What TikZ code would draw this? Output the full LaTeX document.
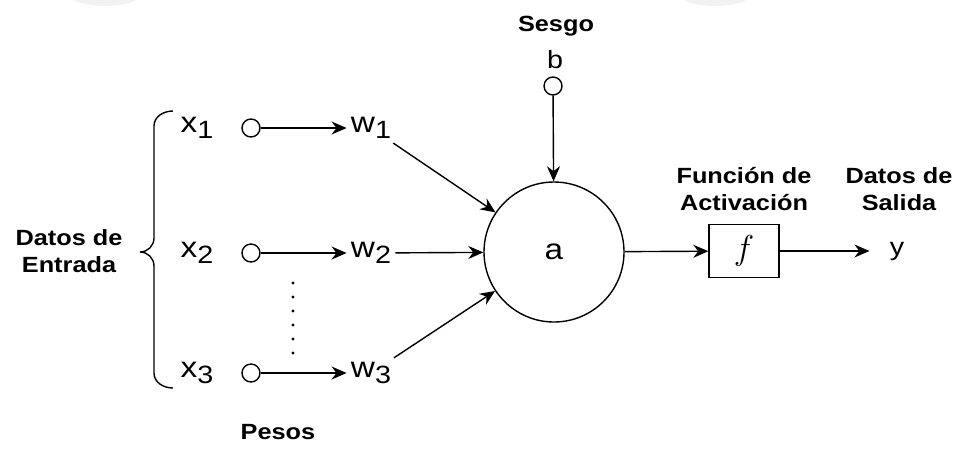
\documentclass[tikz,border=0pt]{standalone}
\usepackage{fontspec}
\setmainfont[FakeStretch=1.15]{Liberation Sans}
\usetikzlibrary{arrows.meta}

\tikzset{
  lbl/.style={font=\fontsize{11}{13.5}\selectfont\bfseries, align=center},
  var/.style={font=\fontsize{14.5}{16}\selectfont, inner sep=2pt},
  port/.style={circle, draw, line width=0.7pt, inner sep=0pt, minimum size=9pt},
  arr/.style={-{Stealth[length=7.5pt,width=6.5pt]}, line width=0.7pt},
}
\newcommand{\varsub}[2]{#1\raisebox{-3pt}{\fontsize{12.5}{12.5}\selectfont #2}}

\begin{document}
\begin{tikzpicture}[x=0.5pt, y=-0.5pt]
        \useasboundingbox (0,0) rectangle (956,451);

        % faint marks at the top edge
        \fill[black!5] (105,-6) ellipse (36 and 12);
        \fill[black!5] (715,-6) ellipse (36 and 12);

        \node[lbl] (sesgo) at (556,26) {Sesgo};
        \node[font=\fontsize{12.5}{14}\selectfont] (b) at (555,60) {b};
        \node[port] (bin) at (553,86) {};

        \node[lbl] (entrada) at (69,251) {Datos de\\Entrada};
        \node[var] (x1) at (197,128) {\varsub{x}{1}};
        \node[var] (x2) at (197,253) {\varsub{x}{2}};
        \node[var] (x3) at (197,373) {\varsub{x}{3}};

        \node[port] (c1) at (251,128) {};
        \node[port] (c2) at (251,253) {};
        \node[port] (c3) at (251,373) {};

        \node[var] (w1) at (371,128) {\varsub{w}{1}};
        \node[var] (w2) at (371,253) {\varsub{w}{2}};
        \node[var] (w3) at (371,373) {\varsub{w}{3}};
        \node[lbl] (pesos) at (278,432) {Pesos};

        \node[circle, draw, line width=0.7pt, minimum size=70pt,
              font=\fontsize{14.5}{16}\selectfont] (a) at (554,252) {a};

        \node[draw, line width=0.7pt, minimum width=35pt, minimum height=26.5pt,
              font=\fontsize{16}{18}\selectfont] (f) at (744,251) {$f$};
        \node[lbl] (activ) at (744,189) {Función de\\Activación};
        \node[font=\fontsize{12.5}{14}\selectfont, inner sep=10pt] (y) at (897,251) {y};
        \node[lbl] (salida) at (899,189) {Datos de\\Salida};

        % curly bracket round the inputs
        \draw[line width=0.7pt] (173,111) to[out=180,in=90] (154,126) -- (154,238)
            to[out=-90,in=0] (140,252) to[out=0,in=90] (154,266) -- (154,373)
            to[out=-90,in=180] (173,388);

        % dots between the second and the last input
        \foreach \k in {0,...,5}
            \fill (293,283+14*\k) circle (1.6);

        \draw[arr] (c1) -- (w1);
        \draw[arr] (c2) -- (w2);
        \draw[arr] (c3) -- (w3);
        \draw[arr] (w1) -- (a);
        \draw[arr] (w2) -- (a);
        \draw[arr] (w3) -- (a);
        \draw[arr] (bin) -- (a);
        \draw[arr] (a) -- (f);
        \draw[arr] (f) -- (y);
    \end{tikzpicture}
\end{document}
